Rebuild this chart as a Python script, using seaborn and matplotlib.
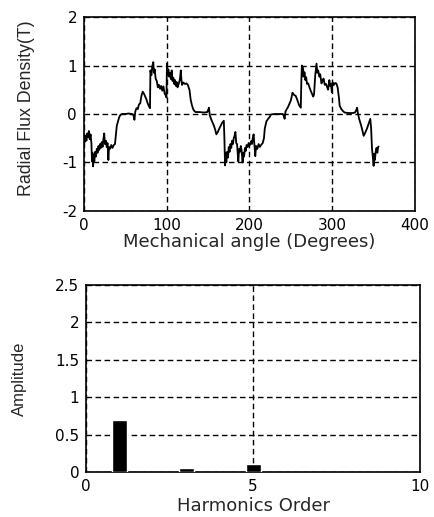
import numpy as np
import pandas as pd
import seaborn as sns
import matplotlib
matplotlib.use("Agg")
import matplotlib.pyplot as plt

# flux density waveform (degrees, tesla)
angle_deg = [0, 1, 2, 3, 4, 5, 6, 7, 8, 9, 9.7, 10.3, 11, 11.8, 12.5, 13.5, 14.5, 15.5, 16.5, 17.5,
             18.5, 19.5, 20.5, 21.5, 22.5, 23.5, 24.5, 25.3, 26.5, 27.5, 28.5, 29.5, 30.3, 31.5, 33,
             34.5, 36, 37.5, 38.5, 39.7, 41, 42.5, 44, 46, 50, 54, 58, 59.7, 61, 62, 63.5, 65, 66.5,
             68, 69.5, 71, 72.5, 74, 75.5, 77, 79, 79.8, 80.3, 81.5, 82.5, 83.8, 84.5, 85.5, 86.6, 88,
             89.3, 90.6, 92, 93.3, 94.6, 96, 97.5, 99, 99.7, 100.3, 101.2, 102, 103, 104, 105, 106,
             107, 108, 109, 110, 111, 112, 113, 114.5, 116, 117, 117.8, 118.5, 120, 122, 124, 125.5,
             127.5, 129, 130.5, 132, 133.5, 135, 140, 145, 149, 150, 151, 152, 153.5, 155, 157, 158.5,
             160, 161.5, 163, 165, 167, 169, 169.7, 170.5, 171.3, 172, 173, 174, 175, 176, 177, 178,
             179, 180, 181, 182, 183, 184, 185, 186, 186.5, 187.5, 188.5, 189.5, 190.5, 191.7, 192.5,
             193.5, 194.5, 195.5, 196.5, 198, 199, 200.5, 202, 203, 204, 205, 205.8, 207, 208, 209.5,
             211, 212.5, 214, 216, 217.5, 218.5, 220.5, 222.5, 224.5, 226, 230, 235, 240, 241, 242.5,
             243.5, 245, 246.5, 248, 250, 251, 252, 253.5, 256, 258, 260, 262, 262.7, 263.3, 264,
             264.8, 265.5, 266.5, 267.5, 268.5, 269.5, 271, 272.5, 274, 275.5, 277, 278, 279.5, 281,
             282, 283, 284.5, 285.5, 287, 288.5, 289.5, 291, 292.5, 294, 295, 296.5, 297.5, 298.5,
             299.5, 300.5, 302, 303.5, 305, 306.5, 308, 309, 311, 313, 315, 320, 325, 327.5, 329, 330,
             331, 332.5, 334, 335, 336.5, 338, 340, 342, 344, 346, 347, 348, 349, 350, 350.8, 351.5,
             352.5, 353.5, 354.5, 355.5, 356]
flux_t = [-0.50, -0.58, -0.45, -0.55, -0.40, -0.48, -0.35, -0.52, -0.42, -0.60, -0.98, -0.80, -1.08,
          -0.85, -0.98, -0.78, -0.88, -0.72, -0.80, -0.66, -0.74, -0.62, -0.70, -0.58, -0.68, -0.52,
          -0.40, -0.62, -0.55, -0.68, -0.60, -0.95, -0.68, -0.72, -0.64, -0.70, -0.64, -0.62, -0.45,
          -0.24, -0.16, -0.07, -0.02, 0.0, 0.0, 0.01, 0.0, -0.02, -0.12, 0.05, 0.12, 0.10, 0.20, 0.22,
          0.38, 0.46, 0.42, 0.36, 0.30, 0.22, 0.14, 0.12, 0.90, 0.80, 0.98, 1.07, 0.85, 0.92, 0.73,
          0.68, 0.55, 0.60, 0.52, 0.58, 0.48, 0.57, 0.42, 0.38, 0.34, 1.04, 0.82, 0.92, 0.77, 0.85,
          0.72, 0.90, 0.68, 0.75, 0.62, 0.70, 0.58, 0.66, 0.55, 0.62, 0.72, 0.90, 0.70, 0.60, 0.65,
          0.62, 0.63, 0.60, 0.50, 0.29, 0.18, 0.10, 0.06, 0.04, 0.04, 0.03, 0.04, 0.08, 0.13, -0.02,
          -0.10, -0.16, -0.24, -0.32, -0.42, -0.38, -0.32, -0.25, -0.18, -0.14, -0.50, -1.06, -0.80,
          -1.00, -0.78, -0.90, -0.68, -0.78, -0.62, -0.70, -0.55, -0.62, -0.50, -0.45, -0.37, -0.60,
          -0.62, -0.85, -0.98, -0.72, -0.78, -0.66, -0.75, -1.00, -0.80, -0.88, -0.70, -0.76, -0.64,
          -0.68, -0.60, -0.64, -0.56, -0.62, -0.50, -0.42, -0.60, -0.87, -0.66, -0.72, -0.62, -0.68,
          -0.64, -0.60, -0.50, -0.30, -0.15, -0.10, -0.06, -0.01, 0.0, 0.0, 0.0, -0.02, -0.10, 0.05,
          0.10, 0.14, 0.20, 0.28, 0.36, 0.44, 0.40, 0.37, 0.28, 0.18, 0.13, 0.70, 1.00, 0.78, 0.95,
          0.77, 0.86, 0.70, 0.76, 0.62, 0.63, 0.55, 0.48, 0.42, 0.36, 0.40, 0.80, 1.04, 0.85, 0.90,
          0.77, 0.82, 0.63, 0.70, 0.73, 0.60, 0.62, 0.55, 0.50, 0.70, 0.58, 0.62, 0.45, 0.65, 0.60,
          0.64, 0.63, 0.55, 0.35, 0.17, 0.10, 0.06, 0.03, 0.02, 0.02, 0.03, 0.08, 0.13, 0.02, -0.10,
          -0.18, -0.24, -0.35, -0.45, -0.38, -0.30, -0.20, -0.10, -0.30, -0.70, -0.88, -1.07, -0.82,
          -0.95, -0.78, -0.70, -0.80, -0.68, -0.67]

# harmonic spectrum
harmonic_order = [1, 3, 5]
amplitude = [0.70, 0.05, 0.11]

top_xticks = [0, 100, 200, 300, 400]
top_yticks = [-2, -1, 0, 1, 2]
bot_xticks = [0, 5, 10]
bot_yticks = [0, 0.5, 1, 1.5, 2, 2.5]
bot_yticklabels = ["0", "0.5", "1", "1.5", "2", "2.5"]

sns.set_style("white")
plt.rcParams["font.family"] = ["DejaVu Sans"]
plt.rcParams["axes.unicode_minus"] = False

df_wave = pd.DataFrame({"angle": angle_deg, "flux": flux_t})
df_harm = pd.DataFrame({"order": harmonic_order, "amp": amplitude})

fig = plt.figure(figsize=(4.35, 5.17), dpi=100)
ax1 = fig.add_axes([0.193, 0.592, 0.761, 0.375])
ax2 = fig.add_axes([0.198, 0.087, 0.768, 0.362])

grid_kw = dict(color="black", linestyle=(0, (4, 2.5)), linewidth=1.0)

# top: waveform
sns.lineplot(data=df_wave, x="angle", y="flux", ax=ax1, color="black", linewidth=1.3,
             sort=False, estimator=None)
ax1.set_xlim(0, 400)
ax1.set_ylim(-2, 2)
ax1.set_xticks(top_xticks)
ax1.set_yticks(top_yticks)
ax1.grid(True, **grid_kw)
ax1.set_xlabel("Mechanical angle (Degrees)", fontsize=13, labelpad=0)
ax1.set_ylabel("Radial Flux Density(T)", fontsize=12.8, family="Liberation Sans")
ax1.yaxis.set_label_coords(-0.148, 0.53)

# bottom: harmonics
sns.barplot(data=df_harm, x="order", y="amp", ax=ax2, color="black", native_scale=True,
            width=0.225, saturation=1, zorder=3)
ax2.set_xlim(0, 10)
ax2.set_ylim(0, 2.5)
ax2.set_xticks(bot_xticks)
ax2.set_yticks(bot_yticks)
ax2.set_yticklabels(bot_yticklabels)
ax2.grid(True, **grid_kw)
ax2.set_axisbelow(True)
ax2.set_xlabel("Harmonics Order", fontsize=13, labelpad=2)
ax2.set_ylabel("Amplitude", fontsize=12, family="Liberation Sans", labelpad=20)

for ax in (ax1, ax2):
    for s in ax.spines.values():
        s.set_visible(True)
        s.set_color("black")
        s.set_linewidth(1.2)
    ax.tick_params(axis="both", labelsize=11, direction="in", length=0, pad=5, colors="black")

fig.savefig("out.png", dpi=100)
